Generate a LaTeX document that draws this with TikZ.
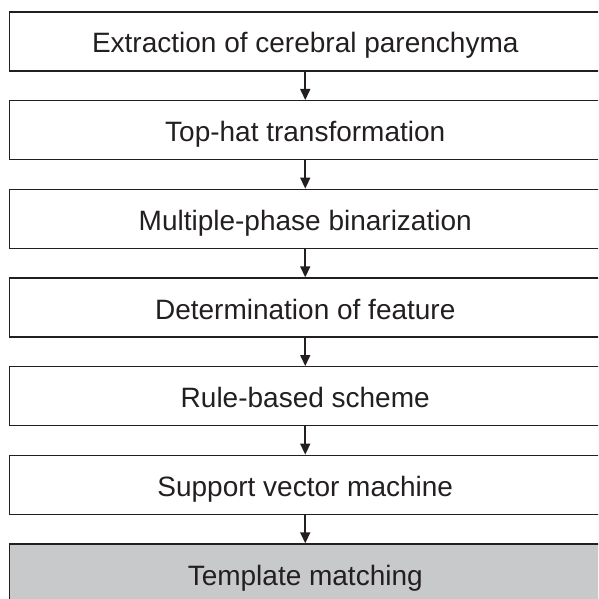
\documentclass[tikz,border=0pt]{standalone}
\usepackage{fontspec}
\setmainfont{Liberation Sans}
\usetikzlibrary{arrows.meta}
\definecolor{ink}{HTML}{231F20}
\definecolor{boxgray}{HTML}{C8C9CA}
\begin{document}
\begin{tikzpicture}[x=1pt,y=-1pt,
  stepbox/.style={draw=ink,line width=1.4pt,minimum width=591.5pt,minimum height=59pt,inner sep=0pt,text=ink,font=\fontsize{28}{33}\selectfont,text height=23pt,text depth=0pt,anchor=center},
  flow/.style={draw=ink,line width=1.6pt,-{Triangle[width=10pt,length=11pt]}}]
\useasboundingbox (0,0) rectangle (598,599);
\clip (0,0) rectangle (598,599);
\node[stepbox] (b1) at (305.25,41.5) {Extraction of cerebral parenchyma};
\node[stepbox] (b2) at (305.25,130.2) {Top-hat transformation};
\node[stepbox] (b3) at (305.25,218.8) {Multiple-phase binarization};
\node[stepbox] (b4) at (305.25,307.5) {Determination of feature};
\node[stepbox] (b5) at (305.25,396.2) {Rule-based scheme};
\node[stepbox] (b6) at (305.25,484.8) {Support vector machine};
\node[stepbox,fill=boxgray] (b7) at (305.25,573.5) {Template matching};
\foreach \a/\b in {b1/b2,b2/b3,b3/b4,b4/b5,b5/b6,b6/b7}
  \draw[flow] (\a.south) -- (\b.north);
\end{tikzpicture}
\end{document}
